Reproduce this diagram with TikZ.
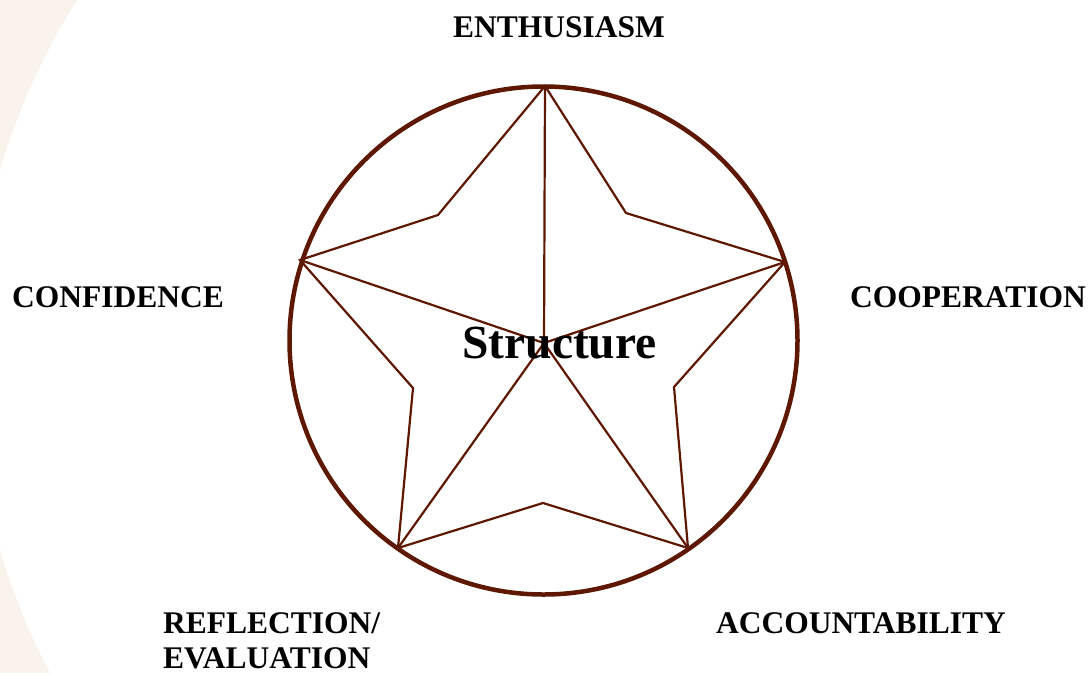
\documentclass[tikz,border=0pt]{standalone}
\usepackage{fontspec}
\setmainfont{Liberation Serif}
\definecolor{beige}{RGB}{250,243,236}
\definecolor{brown}{RGB}{94,24,0}
\tikzset{
  lbl/.style={font=\fontsize{31.5}{35}\selectfont\bfseries, inner sep=0pt, text=black},
  ring/.style={draw=brown, line width=4.5pt},
  starline/.style={draw=brown, line width=2.2pt, line join=miter},
}
\begin{document}
\begin{tikzpicture}[x=1pt,y=-1pt]
\useasboundingbox (0,0) rectangle (1090,673);
\fill[beige] (0,0) rectangle (1090,673);
\fill[white] (646,360) circle[radius=673pt];

% circle
\coordinate (c) at (543.5,340.5);
\draw[ring] (c) circle[radius=254pt];

% star points
\coordinate (top) at (545,86);
\coordinate (rt) at (785,262);
\coordinate (lf) at (300,260);
\coordinate (bl) at (398,548);
\coordinate (br) at (688,548);
\coordinate (itl) at (438,215);
\coordinate (itr) at (626,213);
\coordinate (ir) at (674,387);
\coordinate (ib) at (543,503);
\coordinate (il) at (413,388);
\coordinate (ctr) at (544,343);

\draw[starline] (top) -- (itr) -- (rt) -- (ir) -- (br) -- (ib) -- (bl) -- (il) -- (lf) -- (itl) -- cycle;
\draw[starline] (ctr) -- (top);
\draw[starline] (ctr) -- (rt);
\draw[starline] (ctr) -- (lf);
\draw[starline] (ctr) -- (bl);
\draw[starline] (ctr) -- (br);

\node[font=\fontsize{47.5}{50}\selectfont\bfseries, inner sep=0pt, anchor=base] (struct) at (559.5,358) {Structure};

\node[lbl, anchor=base] (enth) at (559,37) {ENTHUSIASM};
\node[lbl, anchor=base] (conf) at (118,307) {CONFIDENCE};
\node[lbl, anchor=base] (coop) at (968,307) {COOPERATION};
\node[lbl, anchor=base] (acc) at (861,633) {ACCOUNTABILITY};
\node[lbl, anchor=base west, align=left] (refl) at (163,668) {REFLECTION/\\EVALUATION};
\end{tikzpicture}
\end{document}
